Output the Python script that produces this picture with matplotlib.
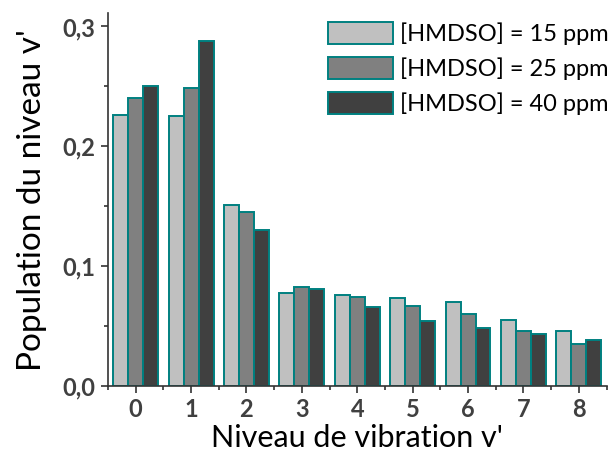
import numpy as np
import matplotlib.pyplot as plt
from matplotlib.ticker import MultipleLocator

# Data
levels = [0, 1, 2, 3, 4, 5, 6, 7, 8]
pop_15 = [0.226, 0.225, 0.151, 0.078, 0.076, 0.073, 0.070, 0.055, 0.046]
pop_25 = [0.240, 0.249, 0.145, 0.083, 0.074, 0.067, 0.060, 0.046, 0.035]
pop_40 = [0.250, 0.288, 0.130, 0.081, 0.066, 0.054, 0.048, 0.043, 0.038]
series_labels = ['[HMDSO] = 15 ppm', '[HMDSO] = 25 ppm', '[HMDSO] = 40 ppm']

plt.rcParams['font.family'] = ['Lato', 'DejaVu Sans']

fig = plt.figure(figsize=(6.08, 4.57), dpi=100)
ax = fig.add_axes([0.1776, 0.1554, 0.82, 0.8156])

x = np.arange(len(levels))
w = 0.27
colors = ['#c0c0c0', '#808080', '#404040']
for i, (vals, lab) in enumerate(zip([pop_15, pop_25, pop_40], series_labels)):
    ax.bar(x + (i - 1) * w, vals, width=w, color=colors[i],
           edgecolor='#008080', linewidth=1.4, label=lab)

ax.set_xlim(-0.5, 8.5)
ax.set_ylim(0, 0.311)
ax.set_xticks(x)
ax.set_xticklabels([str(v) for v in levels])
ax.xaxis.set_minor_locator(MultipleLocator(0.5))
ax.set_yticks([0, 0.1, 0.2, 0.3])
ax.set_yticklabels(['0,0', '0,1', '0,2', '0,3'])
ax.yaxis.set_minor_locator(MultipleLocator(0.05))

for s in ['top', 'right']:
    ax.spines[s].set_visible(False)
for s in ['left', 'bottom']:
    ax.spines[s].set_color('#333333')
    ax.spines[s].set_linewidth(1.2)

ax.tick_params(which='major', length=5, width=1.2, color='#333333',
               labelsize=17, labelcolor='#404040', pad=4)
ax.tick_params(which='minor', length=3, width=1.2, color='#333333')
for t in ax.get_xticklabels() + ax.get_yticklabels():
    t.set_fontweight('bold')

ax.set_xlabel("Niveau de vibration v'", fontsize=22, labelpad=1.5)
ax.set_ylabel("Population du niveau v'", fontsize=24, labelpad=11)

leg = ax.legend(loc='upper left', bbox_to_anchor=(328 / 608, 1 - 22 / 457),
                bbox_transform=fig.transFigure, frameon=False, fontsize=17,
                handlelength=2.75, handleheight=1.05, handletextpad=0.3,
                labelspacing=0.5, borderpad=0, borderaxespad=0)

fig.savefig('out.png', dpi=100)
